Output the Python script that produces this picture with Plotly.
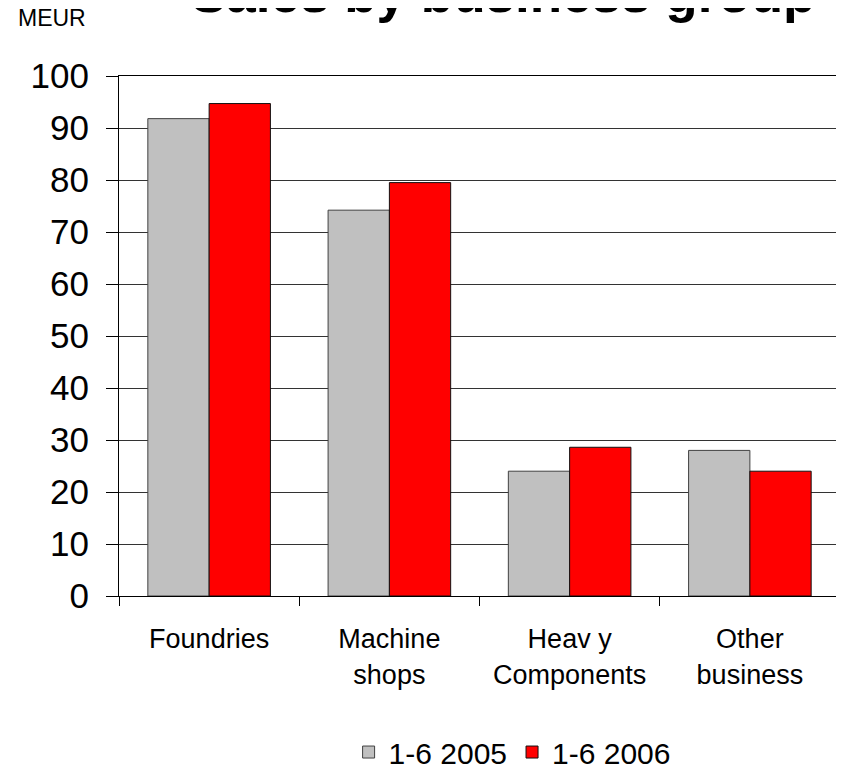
import plotly.graph_objects as go

# Sales by business group, MEUR
categories = ["Foundries", "Machine<br>shops", "Heav y<br>Components", "Other<br>business"]
sales_2005 = [91.8, 74.2, 24.0, 28.0]
sales_2006 = [94.7, 79.5, 28.6, 24.0]
series_names = ["1-6 2005", "1-6 2006"]

font_family = "Arial, Liberation Sans, sans-serif"

# Create the bars for each period
bar_2005 = go.Bar(
    x=categories,
    y=sales_2005,
    name=series_names[0],
    marker=dict(color="#C0C0C0", line=dict(color="#404040", width=1)),
)
bar_2006 = go.Bar(
    x=categories,
    y=sales_2006,
    name=series_names[1],
    marker=dict(color="#FF0000", line=dict(color="#111111", width=1)),
)

fig = go.Figure(data=[bar_2005, bar_2006])

# the page body adds an 8px margin, so the figure is a bit smaller than the window
fig.update_layout(
    width=836,
    height=760,
    margin=dict(l=111, r=4, t=68, b=172),
    paper_bgcolor="white",
    plot_bgcolor="white",
    font=dict(family=font_family, color="black"),
    barmode="group",
    bargap=0.32,
    bargroupgap=0,
    showlegend=True,
    legend=dict(
        orientation="h",
        xref="container", yref="container",
        x=0.603, xanchor="center",
        y=0.021, yanchor="middle",
        font=dict(size=30),
        traceorder="normal",
    ),
)

fig.update_yaxes(
    range=[0, 100],
    dtick=10,
    automargin=False,
    showgrid=True,
    gridcolor="#333333",
    gridwidth=1,
    showline=True,
    linecolor="black",
    linewidth=1,
    mirror=True,
    ticks="outside",
    ticklen=12,
    tickcolor="black",
    tickfont=dict(size=35),
    ticklabelstandoff=10,
    zeroline=False,
)

fig.update_xaxes(
    automargin=False,
    showline=True,
    linecolor="black",
    linewidth=1,
    mirror=True,
    ticks="outside",
    tickson="boundaries",
    ticklen=9,
    tickcolor="black",
    tickfont=dict(size=27),
    ticklabelstandoff=19,
)

# Title (partly cut off at the top in the original) and unit label
fig.add_annotation(
    text="<b>Sales by business group</b>",
    xref="paper", yref="paper",
    x=(495 - 111) / 721, y=(588 + 14) / 520, xanchor="center", yanchor="middle",
    showarrow=False,
    font=dict(size=53, family=font_family),
)
fig.add_annotation(
    text="MEUR",
    xref="paper", yref="paper",
    x=(44 - 111) / 721, y=(588 - 10.5) / 520, xanchor="center", yanchor="middle",
    showarrow=False,
    font=dict(size=23, family=font_family),
)

fig.write_html("out.html")
